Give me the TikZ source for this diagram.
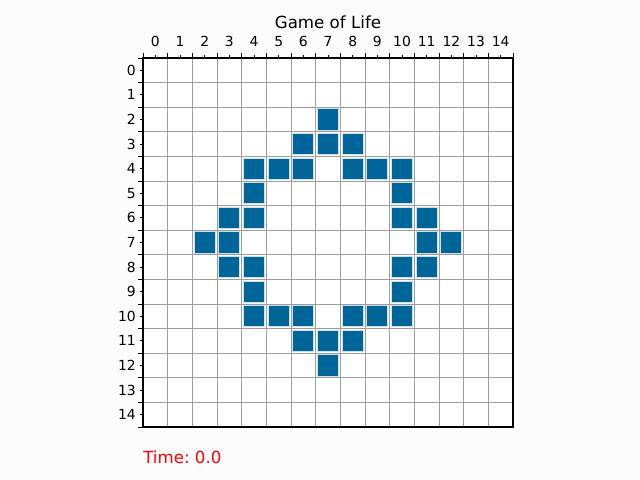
\documentclass[tikz,border=0pt]{standalone}
\usepackage{fontspec}
\setmainfont{DejaVu Sans}
\definecolor{figbg}{RGB}{252,252,252}
\definecolor{cellblue}{RGB}{0,101,153}
\definecolor{celledge}{RGB}{205,225,236}
\definecolor{gridgray}{RGB}{158,158,158}
\frenchspacing
\begin{document}
\begin{tikzpicture}[x=0.72pt,y=-0.72pt,
  cell/.style={rectangle,minimum size=15.2pt,inner sep=0pt,fill=cellblue,draw=celledge,line width=0.7pt},
  gridline/.style={draw=gridgray,line width=0.7pt},
  frame/.style={draw=black,line width=0.75pt},
  tickmark/.style={draw=black,line width=0.6pt},
  ticklabel/.style={inner sep=0pt,font=\fontsize{10}{12}\selectfont},
  titletext/.style={inner sep=0pt,font=\fontsize{12}{14}\selectfont}]
\fill[figbg] (0,0) rectangle (640,480);
\useasboundingbox (0,0) rectangle (640,480);
\pgfmathsetmacro{\cw}{370/15}
\pgfmathsetmacro{\ch}{369/15}
\coordinate (axtl) at (143,58);
\coordinate (axbr) at (513,427);
\fill[white] (axtl) rectangle (axbr);
% grid
\foreach \i in {1,...,14}{
  \draw[gridline] (143+\i*\cw,58) -- (143+\i*\cw,427);
  \draw[gridline] (143,58+\i*\ch) -- (513,58+\i*\ch);
}
% live cells
\foreach \r/\c in {2/7,
  3/6,3/7,3/8,
  4/4,4/5,4/6,4/8,4/9,4/10,
  5/4,5/10,
  6/3,6/4,6/10,6/11,
  7/2,7/3,7/11,7/12,
  8/3,8/4,8/10,8/11,
  9/4,9/10,
  10/4,10/5,10/6,10/8,10/9,10/10,
  11/6,11/7,11/8,
  12/7}{
  \node[cell] (cell-\r-\c) at (143+\c*\cw+0.5*\cw,58+\r*\ch+0.5*\ch) {};
}
% frame
\draw[frame] (axtl) rectangle (axbr);
% ticks
\foreach \i in {0,...,15}{
  \draw[tickmark] (143+\i*\cw,58) -- ++(0,-5);
  \draw[tickmark] (143,58+\i*\ch) -- ++(-5,0);
}
\foreach \i in {0,...,14}{
  \draw[tickmark] (143+\i*\cw+0.5*\cw,58) -- ++(0,-2.6);
  \draw[tickmark] (143,58+\i*\ch+0.5*\ch) -- ++(-2.6,0);
  \node[ticklabel,anchor=base] (xl-\i) at (143+\i*\cw+0.5*\cw,46.7) {\i};
  \node[ticklabel,anchor=east] (yl-\i) at (136,58+\i*\ch+0.5*\ch) {\i};
}
\node[titletext,anchor=base] (title) at (328,28) {Game of Life};
\node[titletext,anchor=base west,text=red] (time) at (143,463.3) {Time: 0.0};
\end{tikzpicture}
\end{document}
